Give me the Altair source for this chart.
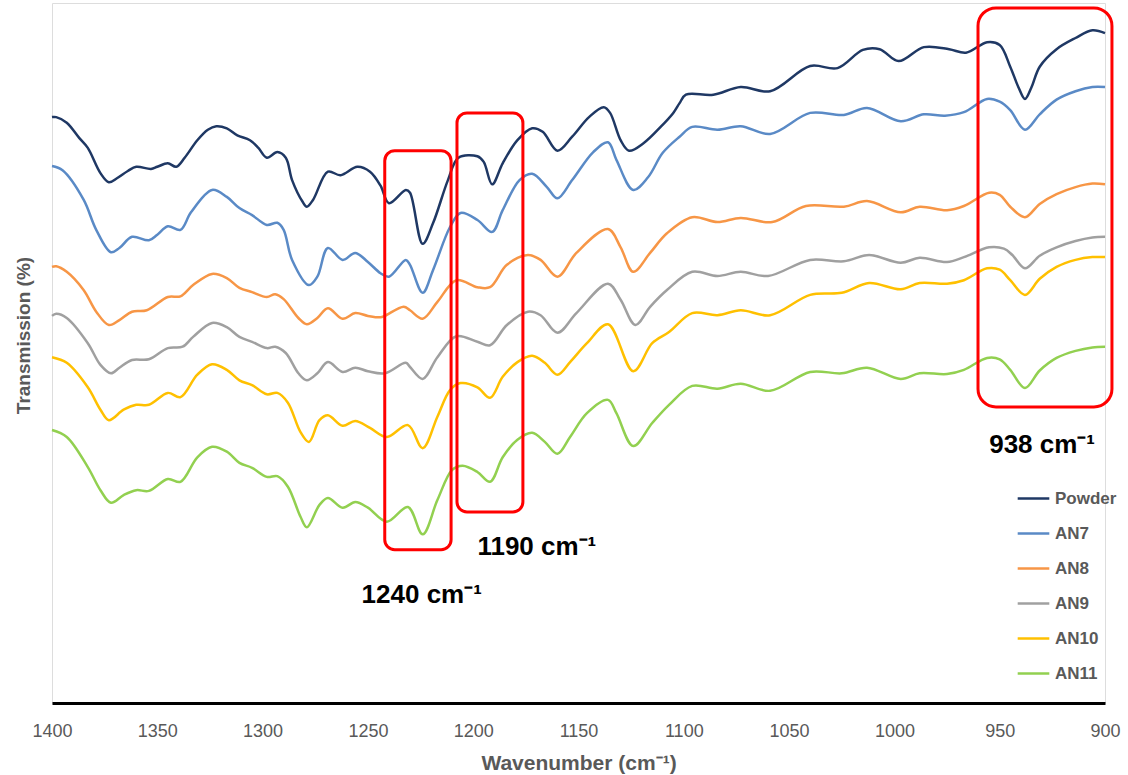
import altair as alt
import pandas as pd

# FTIR spectra (offset for clarity), wavenumber in cm^-1 and transmission in %
powder_wn = [1400, 1398, 1393, 1387, 1383, 1377, 1373, 1369, 1364, 1360, 1353, 1350, 1345, 1341,
             1337, 1331, 1326, 1322, 1317, 1312, 1306, 1302, 1298, 1293, 1289, 1286, 1281, 1279,
             1276, 1269, 1263, 1255, 1249, 1244, 1240, 1232, 1230, 1224, 1219, 1212, 1207, 1198,
             1195, 1191, 1186, 1179, 1172, 1167, 1160, 1153, 1145, 1138, 1135, 1130, 1126, 1119,
             1111, 1105, 1102, 1099, 1086, 1073, 1059, 1040, 1027, 1015, 1007, 998, 986, 974,
             966, 956, 950, 945, 941, 938, 935, 931, 923, 914, 906, 900]
powder_t = [83.7, 83.7, 82.9, 80.7, 79.3, 75.7, 74.4, 75.0, 76.0, 76.6, 76.3, 76.6, 77.1, 76.6,
            77.9, 80.4, 81.9, 82.4, 82.1, 81.1, 80.4, 79.3, 77.9, 78.7, 77.9, 74.7, 71.6, 70.9,
            71.9, 75.9, 75.4, 76.6, 75.9, 73.9, 71.4, 73.3, 72.9, 65.6, 68.6, 74.7, 77.9, 78.1,
            77.3, 74.1, 77.1, 80.4, 82.1, 81.6, 78.9, 80.9, 83.7, 85.1, 84.3, 80.4, 78.9, 80.0,
            82.3, 84.3, 85.7, 86.9, 86.9, 88.0, 87.4, 91.0, 90.7, 93.3, 93.4, 91.7, 93.7, 93.4,
            92.9, 94.4, 94.0, 90.9, 87.9, 86.3, 87.9, 90.9, 93.4, 95.0, 96.1, 95.7]

an7_wn = [1400, 1395, 1385, 1379, 1372, 1368, 1362, 1354, 1350, 1345, 1339, 1334, 1324, 1317,
          1311, 1305, 1298, 1293, 1290, 1286, 1278, 1274, 1269, 1262, 1256, 1250, 1244, 1240,
          1232, 1230, 1224, 1219, 1211, 1206, 1198, 1191, 1186, 1178, 1172, 1165, 1160, 1153,
          1143, 1136, 1132, 1124, 1117, 1110, 1102, 1096, 1084, 1073, 1059, 1040, 1024, 1013,
          997, 986, 976, 967, 956, 950, 945, 938, 931, 923, 914, 906, 900]
an7_t = [76.7, 76.1, 71.9, 67.6, 64.4, 65.0, 66.6, 66.1, 66.9, 68.1, 67.6, 70.1, 73.3, 72.3,
         70.7, 69.7, 68.3, 68.6, 67.6, 63.3, 59.7, 60.9, 65.0, 63.3, 64.3, 63.0, 61.4, 60.9,
         63.3, 62.6, 58.6, 61.9, 68.0, 70.0, 69.0, 67.3, 70.4, 74.7, 75.6, 73.7, 72.1, 74.7,
         78.7, 80.1, 77.6, 73.3, 75.1, 78.6, 80.9, 82.3, 81.9, 82.4, 81.3, 84.3, 84.0, 85.0,
         83.1, 84.1, 83.9, 84.4, 86.3, 85.9, 84.7, 81.9, 84.1, 86.2, 87.4, 88.0, 88.0]

an8_wn = [1400, 1398, 1393, 1385, 1379, 1373, 1368, 1362, 1355, 1345, 1339, 1333, 1324, 1317,
          1311, 1305, 1298, 1294, 1290, 1283, 1279, 1274, 1269, 1262, 1256, 1250, 1244, 1242,
          1233, 1230, 1224, 1217, 1208, 1198, 1192, 1184, 1174, 1168, 1160, 1151, 1136, 1130,
          1124, 1116, 1108, 1096, 1084, 1073, 1058, 1042, 1024, 1013, 997, 988, 975, 967,
          955, 950, 945, 938, 931, 923, 914, 906, 900]
an8_t = [62.3, 62.4, 61.6, 59.0, 55.9, 54.0, 54.7, 55.9, 56.1, 58.0, 58.1, 59.7, 61.3, 60.7,
         59.3, 58.7, 58.0, 58.4, 57.7, 55.0, 54.1, 55.0, 56.4, 54.9, 55.7, 55.3, 55.1, 55.3,
         56.6, 56.1, 54.9, 57.3, 60.4, 59.4, 59.4, 62.6, 64.0, 63.3, 60.9, 64.3, 67.7, 65.1,
         61.6, 64.3, 67.1, 69.4, 68.7, 69.3, 68.7, 71.0, 70.9, 71.7, 70.1, 70.9, 70.4, 71.0,
         72.9, 72.6, 70.9, 69.4, 71.3, 72.7, 73.7, 74.2, 74.1]

an9_wn = [1400, 1398, 1393, 1383, 1377, 1372, 1368, 1362, 1354, 1345, 1338, 1333, 1324, 1317,
          1311, 1305, 1298, 1294, 1289, 1283, 1279, 1274, 1269, 1262, 1256, 1250, 1242, 1232,
          1230, 1224, 1217, 1208, 1198, 1192, 1184, 1174, 1168, 1160, 1151, 1136, 1130, 1123,
          1116, 1108, 1096, 1084, 1073, 1060, 1040, 1024, 1012, 997, 988, 975, 967, 955,
          948, 944, 938, 931, 923, 914, 906, 900]
an9_t = [55.3, 55.6, 55.0, 51.4, 48.3, 47.1, 47.9, 49.0, 49.1, 50.7, 50.9, 52.3, 54.3, 53.7,
         52.3, 51.6, 50.7, 50.9, 50.0, 47.1, 46.1, 47.1, 48.7, 47.3, 47.9, 47.4, 47.1, 48.6,
         48.0, 46.3, 49.4, 52.4, 51.6, 51.1, 54.0, 55.9, 55.4, 52.9, 55.7, 59.9, 57.6, 54.0,
         56.6, 59.0, 61.6, 61.0, 61.6, 61.0, 63.3, 63.1, 64.0, 62.9, 63.6, 63.0, 63.7, 65.1,
         64.9, 64.0, 62.1, 63.9, 65.1, 66.0, 66.5, 66.6]

an10_wn = [1400, 1393, 1383, 1377, 1373, 1366, 1360, 1354, 1345, 1339, 1331, 1324, 1317, 1311,
           1305, 1298, 1293, 1288, 1282, 1278, 1273, 1269, 1262, 1256, 1249, 1241, 1231, 1224,
           1217, 1211, 1206, 1198, 1192, 1186, 1179, 1172, 1166, 1160, 1154, 1146, 1136, 1124,
           1115, 1107, 1096, 1084, 1073, 1059, 1040, 1025, 1012, 997, 988, 975, 967, 956,
           950, 945, 938, 931, 923, 914, 906, 900]
an10_t = [49.4, 48.6, 45.1, 41.9, 40.4, 41.9, 42.6, 42.6, 44.3, 43.7, 46.9, 48.4, 47.6, 46.1,
          45.4, 44.1, 44.3, 42.9, 38.7, 37.3, 40.4, 41.1, 39.6, 40.3, 39.3, 38.0, 39.7, 36.4,
          40.9, 44.7, 45.7, 45.1, 43.6, 46.6, 48.7, 49.6, 48.6, 46.9, 48.7, 51.4, 54.1, 47.4,
          51.4, 53.0, 55.7, 55.4, 56.1, 55.4, 58.3, 58.6, 60.0, 59.1, 60.0, 59.9, 60.4, 62.1,
          61.9, 60.4, 58.3, 60.6, 62.3, 63.3, 63.7, 63.7]

an11_wn = [1400, 1393, 1383, 1377, 1372, 1366, 1360, 1354, 1345, 1339, 1331, 1324, 1317, 1311,
           1305, 1298, 1293, 1288, 1282, 1279, 1273, 1269, 1262, 1256, 1250, 1241, 1231, 1224,
           1217, 1210, 1205, 1198, 1192, 1186, 1179, 1172, 1166, 1160, 1154, 1146, 1136, 1132,
           1124, 1115, 1107, 1096, 1084, 1073, 1059, 1040, 1025, 1013, 997, 988, 975, 967,
           956, 950, 945, 938, 931, 923, 914, 906, 900]
an11_t = [39.0, 38.0, 33.7, 30.4, 28.6, 29.7, 30.4, 30.3, 32.0, 31.6, 35.1, 36.6, 35.9, 34.3,
          33.6, 32.3, 32.4, 30.9, 26.6, 25.1, 28.3, 29.3, 27.9, 28.7, 27.9, 25.9, 28.0, 24.1,
          29.0, 33.3, 33.9, 33.0, 31.6, 35.1, 37.6, 38.6, 37.3, 35.6, 38.0, 41.4, 43.3, 41.4,
          36.7, 40.0, 42.6, 45.3, 44.9, 45.6, 44.6, 47.3, 47.1, 47.9, 46.3, 47.1, 47.0, 47.6,
          49.3, 49.1, 47.6, 45.0, 47.5, 49.3, 50.3, 50.8, 50.9]

series_names = ["Powder", "AN7", "AN8", "AN9", "AN10", "AN11"]
series_colors = ["#1f3864", "#5a8ac6", "#f79646", "#a0a0a0", "#ffc000", "#92d050"]
series_data = [(powder_wn, powder_t), (an7_wn, an7_t), (an8_wn, an8_t),
               (an9_wn, an9_t), (an10_wn, an10_t), (an11_wn, an11_t)]

# Highlighted band regions: wavenumber range and transmission range
band_labels = ["1240 cm⁻¹", "1190 cm⁻¹", "938 cm⁻¹"]
band_wn_start = [1242, 1207.7, 960.3]
band_wn_end = [1210.5, 1176.4, 896.7]
band_t_low = [21.9, 27.3, 42.3]
band_t_high = [78.9, 84.3, 99.3]
label_wn = [1253, 1198, 955]
label_t = [14.3, 21.1, 35.7]

x_ticks = [1400, 1350, 1300, 1250, 1200, 1150, 1100, 1050, 1000, 950, 900]

rows = []
for name, (wn, t) in zip(series_names, series_data):
    for w, v in zip(wn, t):
        rows.append({"series": name, "wavenumber": w, "transmission": v})
spectra = pd.DataFrame(rows)

bands = pd.DataFrame({
    "label": band_labels, "w0": band_wn_start, "w1": band_wn_end,
    "t0": band_t_low, "t1": band_t_high, "lw": label_wn, "lt": label_t,
})

FONT = "Liberation Sans"
GREY = "#595959"

x_scale = alt.Scale(domain=[1400, 900], nice=False, zero=False)
y_scale = alt.Scale(domain=[0, 100], nice=False, zero=False)

lines = alt.Chart(spectra).mark_line(strokeWidth=2.5, interpolate="catmull-rom").encode(
    x=alt.X("wavenumber:Q", scale=x_scale, title="Wavenumber (cm⁻¹)",
            axis=alt.Axis(values=x_ticks, format="d", grid=False, ticks=False,
                          domainColor="black", domainWidth=3,
                          labelFont=FONT, labelFontSize=18, labelColor=GREY, labelPadding=19,
                          labelFlush=False,
                          titleFont=FONT, titleFontSize=21, titleFontWeight="bold",
                          titleColor=GREY, titlePadding=12)),
    y=alt.Y("transmission:Q", scale=y_scale, title="Transmission (%)",
            axis=alt.Axis(labels=False, ticks=False, domain=False, grid=False,
                          titleFont=FONT, titleFontSize=19, titleFontWeight="bold",
                          titleColor=GREY, titleX=-23, titleY=332,
                          titleBaseline="alphabetic", titleAlign="center")),
    color=alt.Color("series:N", sort=series_names,
                    scale=alt.Scale(domain=series_names, range=series_colors),
                    legend=alt.Legend(orient="none", legendX=964, legendY=478, title=None,
                                      symbolType="stroke", symbolSize=1000,
                                      symbolStrokeWidth=2.5, padding=0,
                                      labelFont=FONT, labelFontSize=17,
                                      labelFontWeight="bold", labelColor=GREY,
                                      labelOffset=4, rowPadding=9)),
    detail="series:N",
)

small_boxes = alt.Chart(bands.iloc[:2]).mark_rect(
    fillOpacity=0, stroke="#ff0000", strokeWidth=3, cornerRadius=10
).encode(
    x=alt.X("w0:Q", scale=x_scale), x2="w1:Q",
    y=alt.Y("t0:Q", scale=y_scale), y2="t1:Q",
)

big_box = alt.Chart(bands.iloc[2:]).mark_rect(
    fillOpacity=0, stroke="#ff0000", strokeWidth=3, cornerRadius=18
).encode(
    x=alt.X("w0:Q", scale=x_scale), x2="w1:Q",
    y=alt.Y("t0:Q", scale=y_scale), y2="t1:Q",
)

labels = alt.Chart(bands).mark_text(
    align="left", baseline="alphabetic", font=FONT, fontSize=26, fontWeight="bold",
    color="black"
).encode(
    x=alt.X("lw:Q", scale=x_scale),
    y=alt.Y("lt:Q", scale=y_scale),
    text="label:N",
)

chart = alt.layer(lines, small_boxes, big_box, labels).properties(
    width=1053, height=700,
    autosize=alt.AutoSizeParams(type="none"),
    padding={"left": 52, "top": 3, "right": 23, "bottom": 72},
).configure_view(stroke=None).configure(background="white")

chart.save("out.html", embed_options={"renderer": "svg", "actions": False})
